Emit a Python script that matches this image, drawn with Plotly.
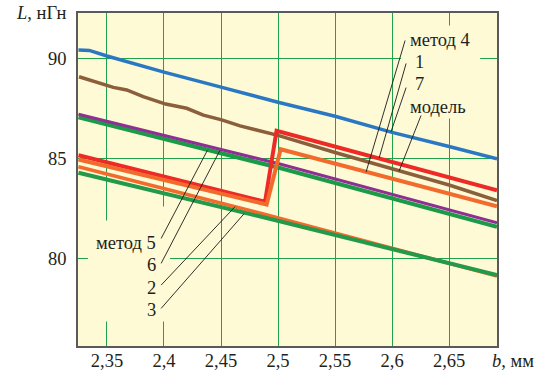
import plotly.graph_objects as go

# ---------------- data ----------------
x_blue = [2.325, 2.3345, 2.35, 2.4, 2.45, 2.5, 2.55, 2.6, 2.65, 2.692]
y_blue = [90.4, 90.38, 90.1, 89.3, 88.55, 87.8, 87.1, 86.3, 85.6, 84.98]

x_brown = [2.3255, 2.341, 2.3556, 2.3673, 2.3818, 2.4015, 2.4199, 2.4345, 2.4506,
           2.4667, 2.4855, 2.5, 2.55, 2.6, 2.65, 2.692]
y_brown = [89.07, 88.82, 88.54, 88.41, 88.08, 87.71, 87.5, 87.16, 86.92,
           86.62, 86.38, 86.15, 85.3, 84.48, 83.68, 82.9]

x_purple = [2.325, 2.5, 2.692]
y_purple = [87.2, 84.75, 81.8]

x_green_up = [2.325, 2.5, 2.692]
y_green_up = [87.05, 84.55, 81.6]

x_red = [2.325, 2.4886, 2.4987, 2.692]
y_red = [85.16, 82.85, 86.38, 83.42]

x_orange_up = [2.325, 2.490, 2.5023, 2.692]
y_orange_up = [84.95, 82.71, 85.46, 82.62]

x_orange_low = [2.325, 2.4855, 2.692]
y_orange_low = [84.59, 82.26, 79.15]

x_green_low = [2.325, 2.4855, 2.692]
y_green_low = [84.29, 82.1, 79.2]

x_ticks = [2.35, 2.4, 2.45, 2.5, 2.55, 2.6, 2.65]
x_ticktext = ["2,35", "2,4", "2,45", "2,5", "2,55", "2,6", "2,65"]
y_ticks = [80, 85, 90]
y_ticktext = ["80", "85", "90"]

right_labels = ["метод 4", "1", "7", "модель"]
left_labels = ["метод 5", "6", "2", "3"]

# ---------------- style ----------------
BG = "#FEFAD6"
GRID = "#1FA24C"
FONT = "serif"
TXT = "#231F20"
FS = 18.5

fig = go.Figure()

def add(x, y, color, w):
    fig.add_trace(go.Scatter(x=x, y=y, mode="lines",
                             line=dict(color=color, width=w, shape="linear"),
                             hoverinfo="skip", showlegend=False))

add(x_blue, y_blue, "#2B78C2", 3.5)
add(x_brown, y_brown, "#8B5E3C", 3.5)
add(x_green_up, y_green_up, "#1B9A48", 4.2)
add(x_purple, y_purple, "#8E2F92", 3)
add(x_red, y_red, "#EE2A26", 4)
add(x_orange_up, y_orange_up, "#F26B2C", 4)
add(x_orange_low, y_orange_low, "#F26B2C", 3.5)
add(x_green_low, y_green_low, "#23994A", 4)

shapes = []
for (x0, x1, y0, y1) in [(2.6079, 2.6772, 86.99, 91.62),
                         (2.3333, 2.4053, 76.89, 81.92),
                         (2.3877, 2.4053, 81.9, 82.61)]:
    shapes.append(dict(type="rect", xref="x", yref="y", x0=x0, x1=x1, y0=y0, y1=y1,
                       fillcolor=BG, line=dict(width=0), layer="between"))

leaders = [
    (2.6114, 90.87, 2.5772, 84.33),
    (2.6123, 89.73, 2.5886, 85.02),
    (2.6123, 88.53, 2.5991, 86.34),
    (2.6254, 87.14, 2.6061, 84.37),
    (2.3975, 81.02, 2.4380, 85.40),
    (2.3975, 79.78, 2.4491, 85.41),
    (2.3975, 78.70, 2.4623, 82.60),
    (2.3975, 77.54, 2.4702, 82.25),
]
for (xa, ya, xb, yb) in leaders:
    shapes.append(dict(type="line", xref="x", yref="y", x0=xa, y0=ya, x1=xb, y1=yb,
                       line=dict(color="#1a1a1a", width=0.9), layer="above"))

annotations = []
rpos = [(2.6140, 90.92), (2.6185, 89.81), (2.6185, 88.73), (2.6140, 87.57)]
for t, (x, y) in zip(right_labels, rpos):
    annotations.append(dict(x=x, y=y, xref="x", yref="y", text=t, showarrow=False,
                            xanchor="left", yanchor="middle",
                            font=dict(family=FONT, size=FS, color=TXT)))
lpos = [80.82, 79.69, 78.58, 77.45]
for t, y in zip(left_labels, lpos):
    annotations.append(dict(x=2.3947, y=y, xref="x", yref="y", text=t, showarrow=False,
                            xanchor="right", yanchor="middle",
                            font=dict(family=FONT, size=FS, color=TXT)))

annotations.append(dict(x=-0.024, y=1.0015, xref="paper", yref="paper",
                        text="<i>L</i>, нГн", showarrow=False, xanchor="right",
                        yanchor="middle", font=dict(family=FONT, size=FS, color=TXT)))
annotations.append(dict(x=0.983, y=-0.045, xref="paper", yref="paper",
                        text="<i>b</i>, мм", showarrow=False, xanchor="left",
                        yanchor="middle", font=dict(family=FONT, size=FS, color=TXT)))

axis_common = dict(showgrid=True, gridcolor=GRID, gridwidth=1.3, zeroline=False,
                   showline=True, linecolor="#5A5A5A", linewidth=1.5, mirror=True,
                   ticks="", automargin=False,
                   tickfont=dict(family=FONT, size=FS, color=TXT))

fig.update_layout(
    width=541, height=372,
    margin=dict(l=78, r=44, t=13, b=26, autoexpand=False),
    paper_bgcolor="white", plot_bgcolor=BG,
    font=dict(family=FONT, size=FS, color=TXT),
    xaxis=dict(range=[2.3246, 2.692], tickmode="array", tickvals=x_ticks,
               ticktext=x_ticktext, ticklabelstandoff=-3, **axis_common),
    yaxis=dict(range=[75.67, 92.24], tickmode="array", tickvals=y_ticks,
               ticktext=y_ticktext, ticklabelstandoff=6, **axis_common),
    shapes=shapes, annotations=annotations, showlegend=False,
)

fig.write_html("out.html", config={"displayModeBar": False},
               post_script="document.body.style.margin='0';document.body.style.padding='0';")
